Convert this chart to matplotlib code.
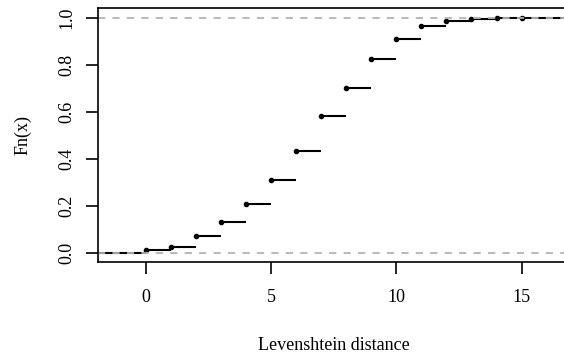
import matplotlib
matplotlib.use('Agg')
import matplotlib.pyplot as plt

# ECDF of Levenshtein distances
knots = [0, 1, 2, 3, 4, 5, 6, 7, 8, 9, 10, 11, 12, 13, 14, 15]
fn = [0.011, 0.027, 0.072, 0.131, 0.208, 0.308, 0.434, 0.582,
      0.702, 0.824, 0.911, 0.965, 0.984, 0.993, 0.997, 1.0]
yticks = [0.0, 0.2, 0.4, 0.6, 0.8, 1.0]
xticks = [0, 5, 10, 15]

plt.rcParams['font.family'] = ['Liberation Serif', 'DejaVu Serif']

fig = plt.figure(figsize=(5.64, 3.58), dpi=100)
ax = fig.add_axes([0.1738, 0.2673, 0.8353, 0.7095])

# R-style extension of the step function beyond the knots
ext = 0.08 * (knots[-1] - knots[0])
lo, hi = knots[0] - ext, knots[-1] + ext
span = hi - lo
ends = knots[1:] + [hi + ext]

#Steps (the outer pieces run past the plot region, like R does)
ax.hlines([0], [lo - ext], [knots[0]], colors='black', lw=1.5)
ax.hlines(fn, knots, ends, colors='black', lw=1.5)
ax.plot(knots, fn, 'o', color='black', markersize=3)

#Reference lines at 0 and 1
for h in (0, 1):
    ax.axhline(h, color='#b3b3b3', lw=1.3, linestyle=(0, (4, 4)))

ax.set_xlim(lo - 0.04 * span, hi + 0.04 * span)
ax.set_ylim(-0.04, 1.04)

ax.set_xticks(xticks)
ax.set_xticklabels([str(v) for v in xticks])
ax.set_yticks(yticks)
ax.set_yticklabels(['%.1f' % v for v in yticks], rotation=90, va='center')

ax.tick_params(direction='out', length=8.5, width=1.2, labelsize=13)
ax.tick_params(axis='x', pad=11)
ax.tick_params(axis='y', pad=8)
for s in ax.spines.values():
    s.set_linewidth(1.2)
ax.spines['right'].set_visible(False)

ax.set_xlabel('Levenshtein distance', fontsize=13, labelpad=22)
ax.set_ylabel('Fn(x)', fontsize=13, labelpad=19)

fig.savefig('out.png', dpi=100)
